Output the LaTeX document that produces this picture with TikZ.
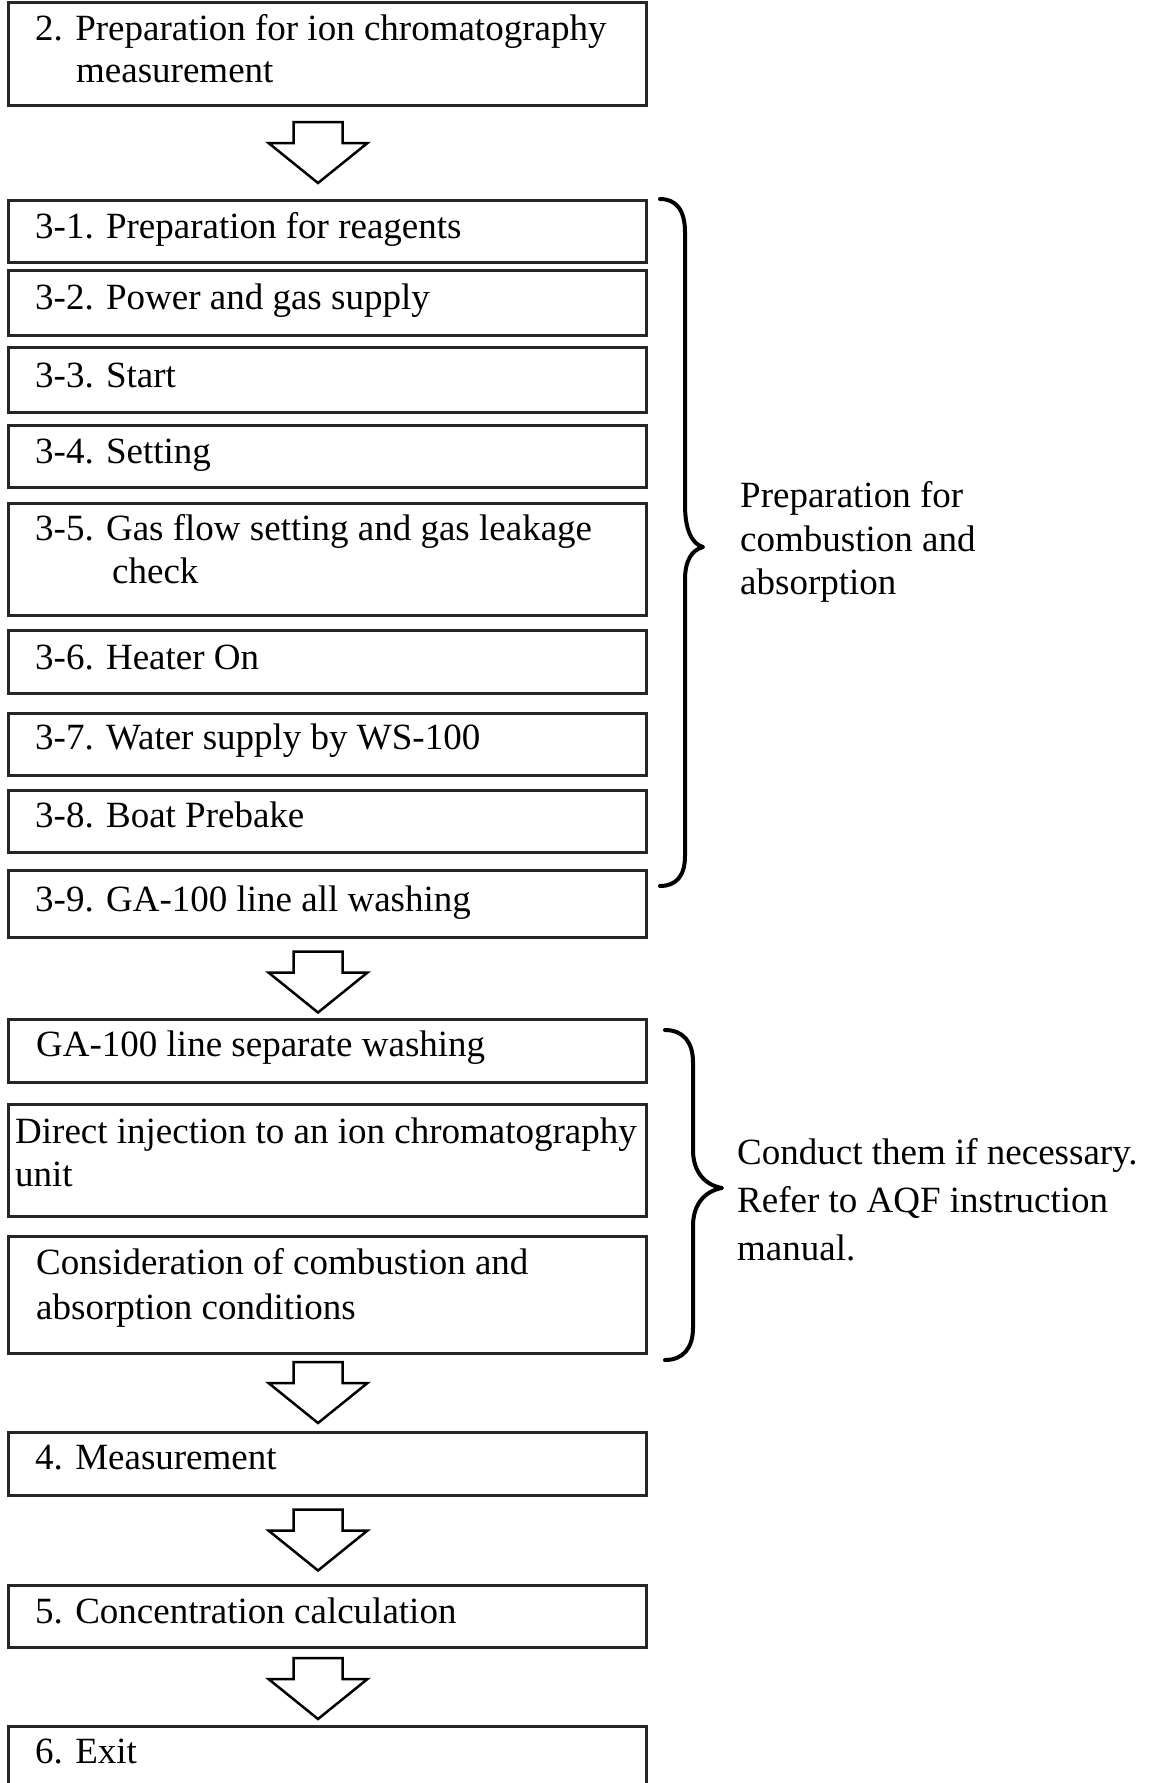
\documentclass[tikz,border=0pt]{standalone}
\usepackage{fontspec}
\setmainfont{Liberation Serif}
\usetikzlibrary{calc}
\tikzset{
  box/.style={draw=black!85, line width=3pt, minimum width=638pt, inner sep=0pt},
  txt/.style={font=\fontsize{37}{43}\selectfont, inner sep=0pt, anchor=base west},
  bracestyle/.style={draw=black, line width=4pt, line cap=round, line join=round},
  arrowline/.style={draw=black, line width=2.5pt, fill=white, line join=miter},
  blockarrow/.pic={\draw[arrowline] (-24.5,-30.5) -- (24.5,-30.5) -- (24.5,-9.5) -- (49.5,-9.5) -- (0,30.5) -- (-49.5,-9.5) -- (-24.5,-9.5) -- cycle;}
}
\newcommand\flowbox[3]{\node[box, minimum height={#3-#2}] (#1) at (327,{(#2+#3)/2}) {};}
\begin{document}
\begin{tikzpicture}[x=1pt, y=-1pt]
\useasboundingbox[fill=white] (0,0) rectangle (1153,1783);
% boxes
\flowbox{b2}{2}{105}
\flowbox{b31}{200}{262}
\flowbox{b32}{270}{335}
\flowbox{b33}{347}{412}
\flowbox{b34}{425}{487}
\flowbox{b35}{503}{615}
\flowbox{b36}{630}{693}
\flowbox{b37}{713}{775}
\flowbox{b38}{790}{852}
\flowbox{b39}{870}{937}
\flowbox{bga}{1019}{1082}
\flowbox{bdi}{1104}{1216}
\flowbox{bco}{1236}{1353}
\flowbox{b4}{1432}{1495}
\flowbox{b5}{1585}{1647}
\flowbox{b6}{1726}{1800}
% texts
\node[txt] (t2a) at (35,40) {2. Preparation for ion chromatography};
\node[txt] (t2b) at (76,82) {measurement};
\node[txt] (t31) at (35,238) {3-1. Preparation for reagents};
\node[txt] (t32) at (35,309) {3-2. Power and gas supply};
\node[txt] (t33) at (35,387) {3-3. Start};
\node[txt] (t34) at (35,463) {3-4. Setting};
\node[txt] (t35a) at (35,540) {3-5. Gas flow setting and gas leakage};
\node[txt] (t35b) at (112,583) {check};
\node[txt] (t36) at (35,669) {3-6. Heater On};
\node[txt] (t37) at (35,749) {3-7. Water supply by WS-100};
\node[txt] (t38) at (35,827) {3-8. Boat Prebake};
\node[txt] (t39) at (35,911) {3-9. GA-100 line all washing};
\node[txt] (tga) at (36,1056) {GA-100 line separate washing};
\node[txt] (tdia) at (15,1143) {Direct injection to an ion chromatography};
\node[txt] (tdib) at (15,1186) {unit};
\node[txt] (tcoa) at (36,1274) {Consideration of combustion and};
\node[txt] (tcob) at (36,1319) {absorption conditions};
\node[txt] (t4) at (35,1469) {4. Measurement};
\node[txt] (t5) at (35,1623) {5. Concentration calculation};
\node[txt] (t6) at (35,1763) {6. Exit};
% right notes
\node[txt] (n1a) at (740,507) {Preparation for};
\node[txt] (n1b) at (740,551) {combustion and};
\node[txt] (n1c) at (740,594) {absorption};
\node[txt] (n2a) at (737,1164) {Conduct them if necessary.};
\node[txt] (n2b) at (737,1212) {Refer to AQF instruction};
\node[txt] (n2c) at (737,1260) {manual.};
% block arrows
\pic at ($(b2.south)!0.5!(b31.north)+(-9,0)$) {blockarrow};
\pic at ($(b39.south)!0.5!(bga.north)+(-9,4)$) {blockarrow};
\pic at ($(bco.south)!0.5!(b4.north)+(-9,0)$) {blockarrow};
\pic at ($(b4.south)!0.5!(b5.north)+(-9,0)$) {blockarrow};
\pic at ($(b5.south)!0.5!(b6.north)+(-9,2)$) {blockarrow};
% braces
\draw[bracestyle] (660,199) .. controls (676,199) and (685,210) .. (685,232) -- (685,505)
  .. controls (685,530) and (692,544) .. (703,547)
  .. controls (692,550) and (685,560) .. (685,580) -- (685,856)
  .. controls (685,876) and (676,886) .. (660,886);
\draw[bracestyle] (665,1030) .. controls (683,1030) and (693,1042) .. (693,1062) -- (693,1150)
  .. controls (693,1172) and (705,1185) .. (722,1188)
  .. controls (705,1191) and (693,1204) .. (693,1226) -- (693,1328)
  .. controls (693,1348) and (683,1360) .. (665,1360);
\end{tikzpicture}
\end{document}
